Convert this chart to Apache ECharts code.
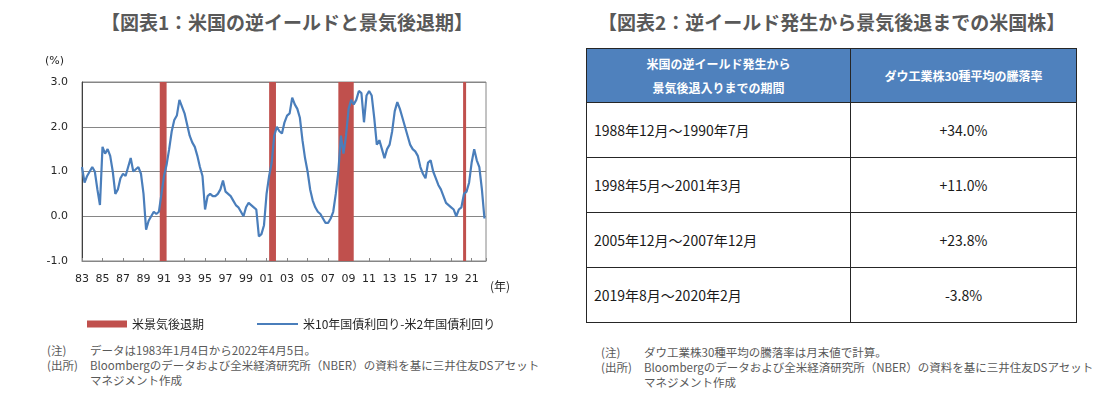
<!DOCTYPE html>
<html lang="ja">
<head>
<meta charset="utf-8">
<script src="https://cdn.jsdelivr.net/npm/echarts@6/dist/echarts.min.js"></script>
<style>
  html, body { margin: 0; padding: 0; background: #fff; }
  body { width: 1118px; height: 397px; position: relative; overflow: hidden;
         font-family: "Noto Sans CJK JP", "Noto Sans", sans-serif; }
  .title { position: absolute; top: 8px; font-size: 19px; font-weight: 700; color: #595959;
           line-height: 28px; white-space: nowrap; }
  #chart { position: absolute; left: 0; top: 0; width: 570px; height: 340px; }
  table.tbl { position: absolute; left: 586px; top: 48px; width: 491px; border-collapse: collapse;
              font-size: 14px; color: #1a1a1a; }
  .tbl th, .tbl td { border: 1px solid #262626; padding: 0; }
  .tbl th { background: #4F81BD; color: #fff; font-size: 12px; font-weight: 700; height: 53px;
            line-height: 24px; }
  .tbl td { height: 54px; }
  .tbl td.period { padding-left: 7px; }
  .tbl td.rate { text-align: center; }
  .note { position: absolute; font-size: 11.5px; line-height: 15px; color: #595959; }
  .note .row { display: flex; }
  .note .lab { width: 43px; flex: none; }
</style>
</head>
<body>
<div class="title" style="left:0;width:574px;text-align:center;">【図表1：米国の逆イールドと景気後退期】</div>
<div class="title" style="left:598px;">【図表2：逆イールド発生から景気後退までの米国株】</div>

<div id="chart"></div>

<table class="tbl">
  <thead>
    <tr>
      <th style="width:263px;">米国の逆イールド発生から<br>景気後退入りまでの期間</th>
      <th>ダウ工業株30種平均の騰落率</th>
    </tr>
  </thead>
  <tbody id="tbody"></tbody>
</table>

<div class="note" style="left:47px;top:343px;">
  <div class="row"><span class="lab">(注)</span><span>データは1983年1月4日から2022年4月5日。</span></div>
  <div class="row"><span class="lab">(出所)</span><span>Bloombergのデータおよび全米経済研究所（NBER）の資料を基に三井住友DSアセット<br>マネジメント作成</span></div>
</div>
<div class="note" style="left:601px;top:345px;">
  <div class="row"><span class="lab">(注)</span><span>ダウ工業株30種平均の騰落率は月末値で計算。</span></div>
  <div class="row"><span class="lab">(出所)</span><span>Bloombergのデータおよび全米経済研究所（NBER）の資料を基に三井住友DSアセット<br>マネジメント作成</span></div>
</div>

<script>
// 米10年国債利回り − 米2年国債利回り（四半期ごとの読み取り値, 1983年1月〜2022年4月）
const START_YEAR = 1983
const spreadQuarterly = [
  1.1, 0.75, 0.9, 1.0,      // 1983
  1.1, 1.0, 0.6, 0.25,      // 1984
  1.55, 1.4, 1.5, 1.35,     // 1985
  1.0, 0.5, 0.6, 0.85,      // 1986
  0.95, 0.9, 1.1, 1.3,      // 1987
  1.0, 1.05, 1.1, 0.95,     // 1988
  0.5, -0.3, -0.1, 0.0,     // 1989
  0.1, 0.05, 0.1, 0.5,      // 1990
  0.9, 1.15, 1.5, 1.9,      // 1991
  2.15, 2.25, 2.6, 2.45,    // 1992
  2.3, 2.05, 1.8, 1.65,     // 1993
  1.55, 1.35, 1.1, 0.9,     // 1994
  0.15, 0.45, 0.5, 0.45,    // 1995
  0.45, 0.5, 0.6, 0.8,      // 1996
  0.55, 0.5, 0.45, 0.35,    // 1997
  0.25, 0.2, 0.1, 0.0,      // 1998
  0.2, 0.3, 0.25, 0.2,      // 1999
  0.15, -0.45, -0.4, -0.2,  // 2000
  0.5, 0.9, 1.2, 1.8,       // 2001
  2.0, 1.9, 1.85, 2.1,      // 2002
  2.25, 2.3, 2.65, 2.5,     // 2003
  2.4, 2.2, 1.7, 1.3,       // 2004
  1.0, 0.6, 0.35, 0.2,      // 2005
  0.1, 0.05, -0.05, -0.15,  // 2006
  -0.15, -0.05, 0.1, 0.5,   // 2007
  1.0, 1.8, 1.4, 1.8,       // 2008
  2.4, 2.6, 2.5, 2.6,       // 2009
  2.8, 2.75, 2.1, 2.7,      // 2010
  2.8, 2.7, 2.2, 1.6,       // 2011
  1.7, 1.5, 1.3, 1.5,       // 2012
  1.6, 1.9, 2.35, 2.55,     // 2013
  2.4, 2.2, 2.0, 1.8,       // 2014
  1.6, 1.5, 1.45, 1.35,     // 2015
  1.1, 0.95, 0.85, 1.2,     // 2016
  1.25, 1.0, 0.85, 0.7,     // 2017
  0.6, 0.45, 0.3, 0.25,     // 2018
  0.2, 0.15, 0.0, 0.15,     // 2019
  0.2, 0.5, 0.55, 0.75,     // 2020
  1.2, 1.5, 1.25, 1.1,      // 2021
  0.6, -0.05                // 2022
]

// 米景気後退期（NBER、開始月・終了月）
const recessions = [
  ['1990-08', '1991-03'],
  ['2001-04', '2001-11'],
  ['2008-01', '2009-06'],
  ['2020-03', '2020-04']
]

const yTicks = [-1, 0, 1, 2, 3]

// 表のデータ
const tablePeriods = ['1988年12月～1990年7月', '1998年5月～2001年3月', '2005年12月～2007年12月', '2019年8月～2020年2月']
const tableReturns = ['+34.0%', '+11.0%', '+23.8%', '-3.8%']

const tbody = document.getElementById('tbody')
tablePeriods.forEach((p, i) => {
  const tr = document.createElement('tr')
  tr.innerHTML = `<td class="period">${p}</td><td class="rate">${tableReturns[i]}</td>`
  tbody.appendChild(tr)
})

// 年月 → 1983年起点の経過年数
function monthToX(s, end) {
  const [y, m] = s.split('-').map(Number)
  return y + (m - 1 + (end ? 1 : 0)) / 12 - START_YEAR
}

const lineData = spreadQuarterly.map((v, i) => [i / 4, v])
const recessionData = recessions.map(r => [monthToX(r[0]), monthToX(r[1], true)])

const RED = '#C0504D'
const BLUE = '#4A7EBB'
const LINE_NAME = '米10年国債利回り-米2年国債利回り'
const axisFont = { fontFamily: 'DejaVu Sans', fontSize: 11, color: '#262626' }
const legendText = { fontFamily: 'Noto Sans CJK JP', fontSize: 12, color: '#262626' }

const chart = echarts.init(document.getElementById('chart'), null, { renderer: 'canvas' })
chart.setOption({
  animation: false,
  grid: { left: 82, top: 82, width: 404, height: 179, show: true, borderColor: '#868686', borderWidth: 1 },
  // 凡例はアイコンの高さが違うので2つに分ける
  legend: [{
    left: 82, top: 313, itemWidth: 40, itemHeight: 7, textStyle: legendText,
    data: [{ name: '米景気後退期', icon: 'rect' }]
  }, {
    left: 252, top: 313, itemWidth: 41, itemHeight: 2, textStyle: legendText,
    data: [{ name: LINE_NAME, icon: 'rect' }]
  }],
  xAxis: [{
    type: 'value', min: 0, max: 39.4, interval: 2,
    axisLine: { show: false }, axisTick: { show: false }, splitLine: { show: false },
    axisLabel: {
      ...axisFont, margin: 13, showMaxLabel: false,
      formatter: v => String((START_YEAR + v) % 100).padStart(2, '0')
    }
  }, {
    type: 'value', min: 0, max: 39.4, interval: 2, position: 'bottom',
    axisLine: { show: true, onZero: true, lineStyle: { color: '#868686', width: 1 } },
    axisTick: { show: true, inside: true, length: 3, lineStyle: { color: '#868686' } },
    axisLabel: { show: false }, splitLine: { show: false }
  }],
  yAxis: {
    type: 'value', min: yTicks[0], max: yTicks[yTicks.length - 1], interval: 1,
    axisLine: { show: true, lineStyle: { color: '#404040' } },
    axisTick: { show: false },
    splitLine: { show: true, lineStyle: { color: '#868686', width: 1 } },
    axisLabel: { ...axisFont, margin: 14, formatter: v => v.toFixed(1) }
  },
  graphic: [
    { type: 'text', left: 45, top: 56, style: { text: '(%)', font: '11px "DejaVu Sans"', fill: '#262626' } },
    { type: 'text', left: 490, top: 280, style: { text: '(年)', font: '12px "Noto Sans CJK JP"', fill: '#262626' } }
  ],
  series: [{
    name: '米景気後退期',
    type: 'custom',
    xAxisIndex: 0,
    itemStyle: { color: RED },
    data: recessionData,
    encode: { x: [0, 1] },
    renderItem: (params, api) => {
      const p0 = api.coord([api.value(0), yTicks[yTicks.length - 1]])
      const p1 = api.coord([api.value(1), yTicks[0]])
      const w = Math.max(p1[0] - p0[0], 3)
      return { type: 'rect', shape: { x: p0[0], y: p0[1], width: w, height: p1[1] - p0[1] },
               style: { fill: RED } }
    },
    z: 1
  }, {
    name: LINE_NAME,
    type: 'line',
    xAxisIndex: 0,
    data: lineData,
    symbol: 'none',
    lineStyle: { color: BLUE, width: 2.2 },
    itemStyle: { color: BLUE },
    z: 3
  }]
})
</script>
</body>
</html>
